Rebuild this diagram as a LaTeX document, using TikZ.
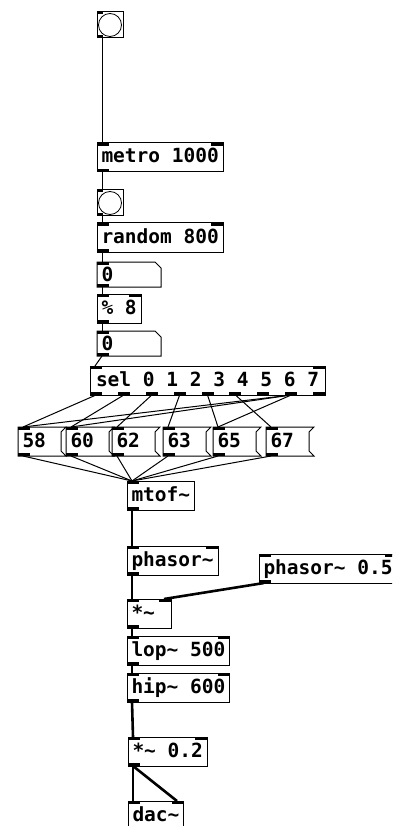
\documentclass[tikz,border=0pt]{standalone}
\usepackage{fontspec}
\setmonofont{DejaVu Sans Mono}
\usetikzlibrary{calc}
\newcommand{\pdtilde}{\textasciitilde}

\begin{document}
\begin{tikzpicture}[x=1pt,y=-1pt,
  pdobj/.style={draw, line width=1pt, rectangle, anchor=north west, outer sep=0pt, inner xsep=4.5pt, inner ysep=0pt,
    minimum height=29pt, text height=14pt, text depth=3pt, font=\ttfamily\bfseries\fontsize{19.5}{20}\selectfont},
  pdshort/.style={pdobj, text width=35pt, align=left},
  pdmsg/.style={pdobj, draw=none, text width=34pt, align=left},
  pdatom/.style={pdobj, draw=none, minimum height=25pt, text depth=0pt, text width=55pt, align=left},
  pdbng/.style={draw, line width=1pt, rectangle, anchor=north west, outer sep=0pt, minimum size=26pt, inner sep=0pt},
  ctl/.style={line width=1pt},
  sig/.style={line width=2.6pt}]
\clip (0,0) rectangle (392,826);
%Shape: bangs
\node[pdbng] (bang1) at (97,12) {};
\draw[line width=0.8pt] (bang1.center) circle[radius=11.5];
\node[pdbng] (bang2) at (97,190) {};
\draw[line width=0.8pt] (bang2.center) circle[radius=11.5];
% Object boxes
\node[pdobj] (metro) at (97,143) {metro 1000};
\node[pdobj] (rnd) at (97,223) {random 800};
\node[pdatom] (num1) at (97,262) {0};
\node[pdobj] (mod) at (97,294) {\% 8};
\node[pdatom] (num2) at (97,331) {0};
\node[pdobj, inner xsep=6pt] (sel) at (90,366) {sel 0 1 2 3 4 5 6 7};
% Message boxes
\node[pdmsg] (m58) at (18,427) {58};
\node[pdmsg] (m60) at (66,427) {60};
\node[pdmsg] (m62) at (112,427) {62};
\node[pdmsg] (m63) at (163,427) {63};
\node[pdmsg] (m65) at (213,427) {65};
\node[pdmsg] (m67) at (266,427) {67};
% Signal objects
\node[pdobj] (mtof) at (127,481) {mtof\pdtilde};
\node[pdobj] (phasor) at (127,546) {phasor\pdtilde};
\node[pdobj] (phslow) at (259,554) {phasor\pdtilde{} 0.5};
\node[pdshort] (mul) at (127,599) {*\pdtilde};
\node[pdobj] (lop) at (127,636) {lop\pdtilde{} 500};
\node[pdobj] (hip) at (127,673) {hip\pdtilde{} 600};
\node[pdobj] (mulb) at (128,737) {*\pdtilde{} 0.2};
\node[pdobj] (dac) at (128,801) {dac\pdtilde};
%Shape: message and number outlines
\foreach \m in {m58,m60,m62,m63,m65,m67}
  \draw[line width=1pt] (\m.north west) -- ([xshift=5pt]\m.north east) -- ([yshift=-5pt]\m.north east)
    -- ([yshift=5pt]\m.south east) -- ([xshift=5pt]\m.south east) -- (\m.south west) -- cycle;
\foreach \a in {num1,num2}
  \draw[line width=1pt] (\a.north west) -- ([xshift=-6pt]\a.north east) -- ([yshift=-6pt]\a.north east)
    -- (\a.south east) -- (\a.south west) -- cycle;
% inlets and outlets
\foreach \n in {metro,rnd,num1,mod,num2,sel,m58,m60,m62,m63,m65,m67,mtof,phasor,phslow,mul,lop,hip,mulb,dac}
  \fill (\n.north west) rectangle ++(12,3);
\foreach \n in {metro,rnd,mod,sel,phasor,phslow,mul,lop,hip,mulb,dac}
  \fill (\n.north east) rectangle ++(-12,3);
\foreach \n in {metro,rnd,num1,mod,num2,m58,m60,m62,m63,m65,m67,mtof,phasor,phslow,mul,lop,hip,mulb}
  \fill (\n.south west) rectangle ++(12,-3);
\foreach \n in {bang1,bang2} {
  \fill (\n.north west) rectangle ++(6,2.5);
  \fill (\n.south west) rectangle ++(6,-2.5);
}
\coordinate (selL) at ([xshift=6pt]sel.south west);
\coordinate (selR) at ([xshift=-6pt]sel.south east);
\foreach \i in {0,...,8}
  \fill ($(selL)!\i/8!(selR)$) ++(-6,-3) rectangle ++(12,3);
% Control connections
\draw[ctl] ([xshift=5pt]bang1.south west) -- ([xshift=5pt]metro.north west);
\draw[ctl] ([xshift=5pt]metro.south west) -- ([xshift=5pt]bang2.north west);
\draw[ctl] ([xshift=5pt]bang2.south west) -- ([xshift=5pt]rnd.north west);
\draw[ctl] ([xshift=5pt]rnd.south west) -- ([xshift=5pt]num1.north west);
\draw[ctl] ([xshift=5pt]num1.south west) -- ([xshift=5pt]mod.north west);
\draw[ctl] ([xshift=5pt]mod.south west) -- ([xshift=5pt]num2.north west);
\draw[ctl] ([xshift=5pt]num2.south west) -- ([xshift=5pt]sel.north west);
\foreach \i/\m in {0/m58,1/m60,2/m62,3/m63,4/m65,5/m67,7/m58,7/m60,7/m65}
  \draw[ctl] ($(selL)!\i/8!(selR)$) -- ([xshift=5pt]\m.north west);
\foreach \m in {m58,m60,m62,m63,m65,m67}
  \draw[ctl] ([xshift=5pt]\m.south west) -- ([xshift=5pt]mtof.north west);
% Signal connections
\draw[sig] ([xshift=5pt]mtof.south west) -- ([xshift=5pt]phasor.north west);
\draw[sig] ([xshift=5pt]phasor.south west) -- ([xshift=5pt]mul.north west);
\draw[sig] ([xshift=5pt]phslow.south west) -- ([xshift=-7pt]mul.north east);
\draw[sig] ([xshift=5pt]mul.south west) -- ([xshift=5pt]lop.north west);
\draw[sig] ([xshift=5pt]lop.south west) -- ([xshift=5pt]hip.north west);
\draw[sig] ([xshift=5pt]hip.south west) -- ([xshift=5pt]mulb.north west);
\draw[sig] ([xshift=5pt]mulb.south west) -- ([xshift=5pt]dac.north west);
\draw[sig] ([xshift=5pt]mulb.south west) -- ([xshift=-7pt]dac.north east);
\end{tikzpicture}
\end{document}
